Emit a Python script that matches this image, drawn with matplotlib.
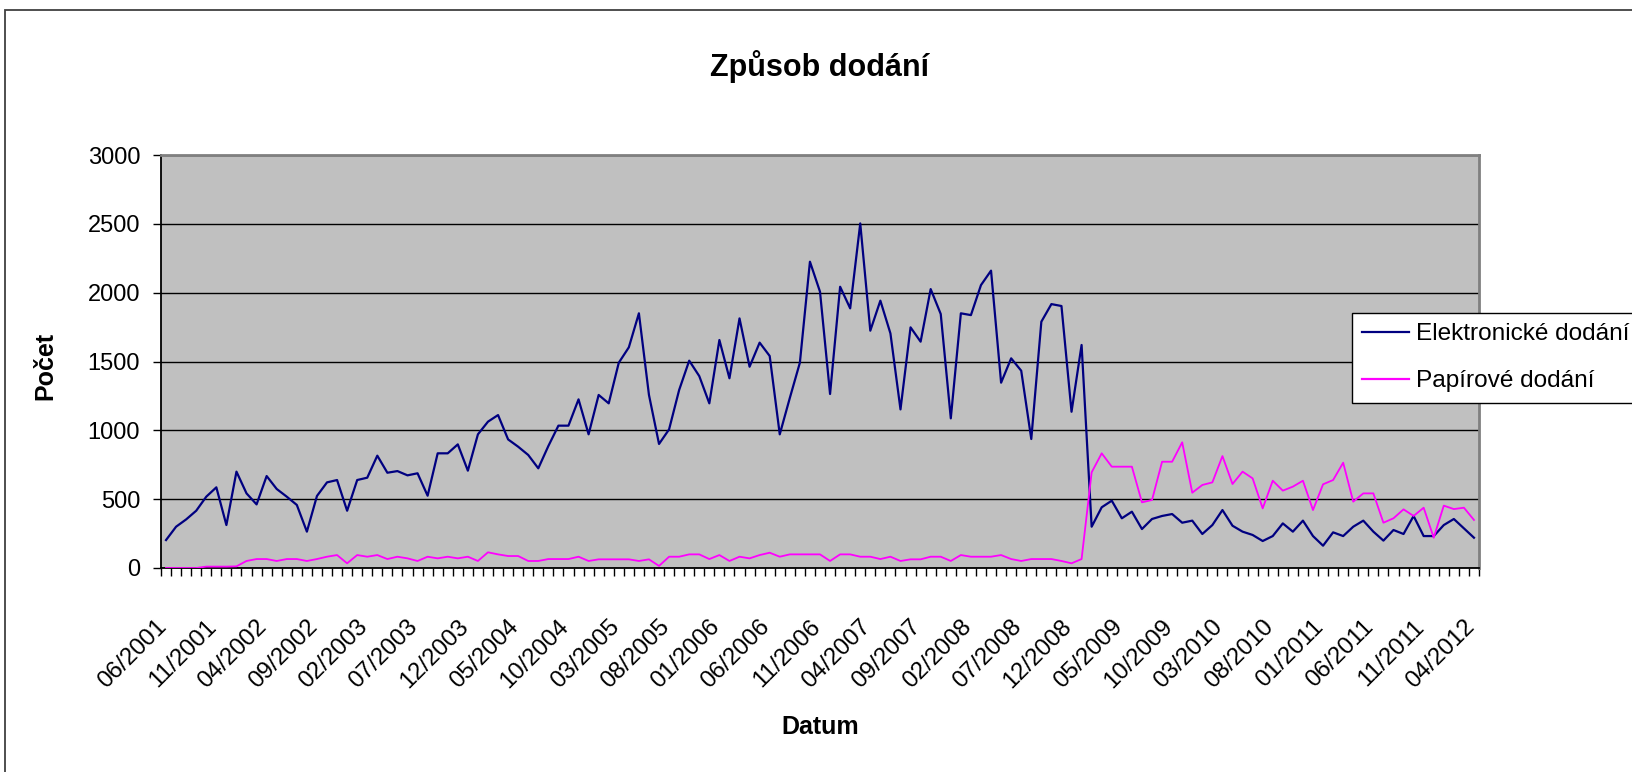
import matplotlib
matplotlib.use("Agg")
import matplotlib.pyplot as plt
from matplotlib.patches import Rectangle
from matplotlib.transforms import ScaledTranslation
import pandas as pd

plt.rcParams['font.family'] = ['Liberation Sans', 'DejaVu Sans']

# ---- data ----
months = pd.period_range('2001-06', periods=131, freq='M')
categories = [m.strftime('%m/%Y') for m in months]

elektronicke = [
    203, 300, 353, 416, 518, 586, 312, 700, 542, 462,
    668, 574, 518, 458, 264, 523, 622, 639, 416, 639,
    656, 816, 692, 704, 673, 688, 525, 833, 833, 898,
    707, 971, 1063, 1111, 934, 881, 821, 724, 886, 1034,
    1034, 1225, 971, 1257, 1196, 1491, 1603, 1850, 1257, 901,
    1007, 1293, 1506, 1394, 1196, 1656, 1378, 1813, 1462, 1637,
    1540, 971, 1235, 1491, 2225, 2007, 1264, 2043, 1886, 2503,
    1724, 1942, 1704, 1152, 1748, 1644, 2026, 1845, 1087, 1850,
    1837, 2055, 2160, 1346, 1523, 1433, 937, 1789, 1917, 1903,
    1135, 1620, 300, 441, 489, 361, 409, 283, 356, 378,
    392, 329, 344, 247, 312, 421, 307, 264, 240, 196,
    232, 324, 264, 344, 232, 162, 259, 232, 300, 344,
    264, 199, 276, 247, 378, 232, 232, 312, 356, 288,
    220,
]

papirove = [
    0, 0, 0, 0, 10, 10, 10, 12, 51, 65,
    65, 51, 65, 65, 51, 65, 82, 94, 34, 94,
    82, 94, 65, 82, 70, 51, 82, 70, 82, 70,
    82, 51, 114, 99, 87, 87, 51, 51, 65, 65,
    65, 82, 51, 63, 63, 63, 63, 51, 63, 15,
    82, 82, 99, 99, 65, 94, 51, 82, 70, 94,
    111, 82, 99, 99, 99, 99, 51, 99, 99, 82,
    82, 65, 82, 51, 63, 63, 82, 82, 51, 94,
    82, 82, 82, 94, 65, 51, 65, 65, 65, 51,
    34, 65, 695, 833, 736, 736, 736, 477, 494, 772,
    772, 913, 547, 603, 622, 813, 610, 700, 651, 433,
    634, 562, 591, 634, 421, 608, 639, 765, 482, 542,
    542, 329, 361, 426, 378, 438, 220, 453, 428, 438,
    349,
]

series_names = ['Elektronické dodání', 'Papírové dodání']
y_ticks = [0, 500, 1000, 1500, 2000, 2500, 3000]
label_step = 5

# ---- figure ----
W, H, DPI = 1633, 772, 100
fig = plt.figure(figsize=(W / DPI, H / DPI), dpi=DPI)
fig.patch.set_facecolor('white')

# outer chart border (extends beyond right/bottom edge)
fig.patches.append(Rectangle((5 / W, -0.2), 1.5, 1 - 10 / H + 0.2,
                             transform=fig.transFigure, fill=False,
                             edgecolor='#404040', linewidth=1.3))

left, right, top, bottom = 161, 1479, 155, 568
ax = fig.add_axes([left / W, 1 - bottom / H, (right - left) / W, (bottom - top) / H])
ax.set_facecolor('#C0C0C0')

x = list(range(len(categories)))
ax.plot(x, elektronicke, color='#000080', lw=1.6, label=series_names[0], zorder=3)
ax.plot(x, papirove, color='#FF00FF', lw=1.3, label=series_names[1], zorder=3)

ax.set_xlim(-0.5, len(categories) - 0.5)
ax.set_ylim(0, 3000)
ax.set_yticks(y_ticks)
ax.set_yticklabels([str(v) for v in y_ticks])
ax.yaxis.grid(True, color='black', lw=1.0)
ax.set_axisbelow(True)

major = x[::label_step]
ax.set_xticks(major)
ax.set_xticklabels([categories[i] for i in major], rotation=45, ha='right',
                   va='center', rotation_mode='anchor')
ax.set_xticks([i - 0.5 for i in range(len(categories) + 1)], minor=True)
ax.tick_params(axis='x', which='major', length=0, pad=40, labelsize=17.3)
ax.tick_params(axis='x', which='minor', length=6, width=1.0, color='black', direction='out')
ax.tick_params(axis='y', length=6, width=1.0, color='black', direction='out', pad=9, labelsize=17)
off = ScaledTranslation(-3 / DPI, 0, fig.dpi_scale_trans)
for lab in ax.get_xticklabels():
    lab.set_transform(lab.get_transform() + off)

for s in ['left', 'bottom']:
    ax.spines[s].set_color('black')
    ax.spines[s].set_linewidth(1.3)
for s in ['top', 'right']:
    ax.spines[s].set_color('#808080')
    ax.spines[s].set_linewidth(2.0)

ax.set_title('Způsob dodání', fontsize=22, fontweight='bold', pad=57)
ax.set_ylabel('Počet', fontsize=18, fontweight='bold')
ax.yaxis.set_label_coords(-0.079, 0.49)
ax.set_xlabel('Datum', fontsize=18, fontweight='bold', va='top')
ax.xaxis.set_label_coords(0.5, -0.355)

leg = fig.legend(loc='upper left', bbox_to_anchor=(1352 / W, 1 - 313 / H),
                 bbox_transform=fig.transFigure, borderaxespad=0,
                 fontsize=17.6, frameon=True, fancybox=False, framealpha=1,
                 edgecolor='black', handlelength=1.9, handletextpad=0.3,
                 borderpad=0.42, labelspacing=1.02)
leg.get_frame().set_linewidth(1.0)
for ln in leg.get_lines():
    ln.set_linewidth(1.6)

fig.savefig('out.png', dpi=DPI)
